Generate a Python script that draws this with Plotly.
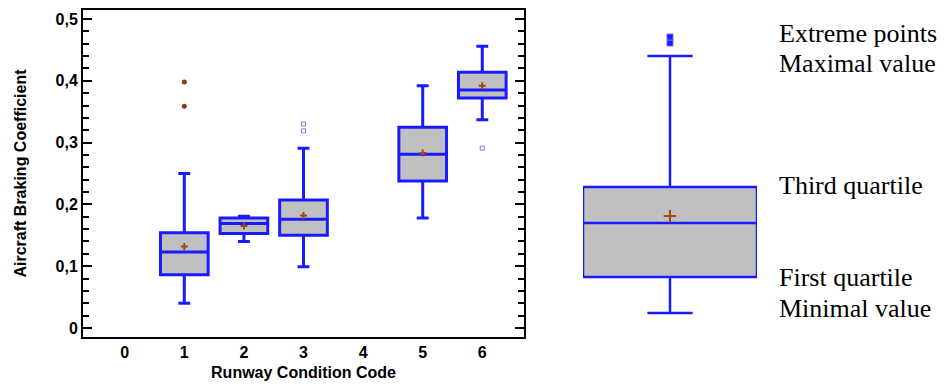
import plotly.graph_objects as go

# ---- data: left chart (Runway Condition Code vs Aircraft Braking Coefficient) ----
codes = [1, 2, 3, 5, 6]
q1 = [0.086, 0.153, 0.150, 0.238, 0.372]
medians = [0.123, 0.169, 0.176, 0.281, 0.385]
q3 = [0.154, 0.178, 0.207, 0.325, 0.414]
lower = [0.040, 0.140, 0.099, 0.178, 0.337]
upper = [0.250, 0.181, 0.291, 0.392, 0.456]
means = [0.132, 0.165, 0.182, 0.283, 0.392]

far_x = [1, 1]
far_y = [0.398, 0.359]
out_x = [3, 3, 6]
out_y = [0.330, 0.319, 0.291]

x_ticks = [0, 1, 2, 3, 4, 5, 6]
y_ticks = [0, 0.1, 0.2, 0.3, 0.4, 0.5]
y_ticktext = ["0", "0,1", "0,2", "0,3", "0,4", "0,5"]

# ---- data: schematic legend box (arbitrary units) ----
demo_lower = 72
demo_q1 = 108
demo_median = 162
demo_q3 = 198
demo_upper = 329
demo_mean = 169
demo_extremes = [342, 348]
legend_labels = ["Extreme points", "Maximal value", "Third quartile", "First quartile", "Minimal value"]
legend_label_y = [352, 322, 200, 108, 77]

BLUE = "#1a1aff"
GRAY = "#c0c0c0"
BROWN = "#9a4a14"

fig = go.Figure()

fig.add_trace(go.Box(
    x=codes, q1=q1, median=medians, q3=q3, lowerfence=lower, upperfence=upper,
    width=0.8, whiskerwidth=0.25, fillcolor=GRAY,
    line=dict(color=BLUE, width=3), boxpoints=False, showlegend=False,
    xaxis="x", yaxis="y"))

fig.add_trace(go.Scatter(
    x=codes, y=means, mode="markers",
    marker=dict(symbol="cross-thin", size=5, line=dict(color=BROWN, width=2), color=BROWN),
    showlegend=False, xaxis="x", yaxis="y"))

fig.add_trace(go.Scatter(
    x=far_x, y=far_y, mode="markers",
    marker=dict(symbol="circle", size=5, color="#8a3a1a"),
    showlegend=False, xaxis="x", yaxis="y"))

fig.add_trace(go.Scatter(
    x=out_x, y=out_y, mode="markers",
    marker=dict(symbol="square-open", size=4, line=dict(color="#6f7cff", width=1)),
    showlegend=False, xaxis="x", yaxis="y"))

# ---- schematic legend box ----
fig.add_trace(go.Box(
    x=[0], q1=[demo_q1], median=[demo_median], q3=[demo_q3],
    lowerfence=[demo_lower], upperfence=[demo_upper],
    width=1, whiskerwidth=0.26, fillcolor=GRAY,
    line=dict(color=BLUE, width=2.5), boxpoints=False, showlegend=False,
    xaxis="x2", yaxis="y2"))

fig.add_trace(go.Scatter(
    x=[0], y=[demo_mean], mode="markers",
    marker=dict(symbol="cross-thin", size=9, line=dict(color=BROWN, width=2)),
    showlegend=False, xaxis="x2", yaxis="y2"))

fig.add_trace(go.Scatter(
    x=[0] * len(demo_extremes), y=demo_extremes, mode="markers",
    marker=dict(symbol="square", size=6, color=BLUE, line=dict(color="#6a6aff", width=1)),
    showlegend=False, xaxis="x2", yaxis="y2"))

for text, yy in zip(legend_labels, legend_label_y):
    fig.add_annotation(
        text=text, x=777 / 945, xref="paper", y=yy, yref="y2",
        xanchor="left", yanchor="middle", showarrow=False,
        font=dict(family="Liberation Serif, Times New Roman, serif", size=26, color="black"))

axis_font = dict(family="Liberation Sans, Arial, sans-serif", size=16, color="black", weight="bold")

fig.update_layout(
    width=945, height=385,
    margin=dict(l=0, r=0, t=0, b=0),
    paper_bgcolor="white", plot_bgcolor="white",
    separators=",.",
    xaxis=dict(
        domain=[83 / 945, 524 / 945], range=[-0.7, 6.7], automargin=False,
        tickvals=x_ticks, ticks="", showgrid=False, zeroline=False,
        showline=True, mirror=True, linecolor="black", linewidth=2,
        tickfont=axis_font,
        title=dict(text="Runway Condition Code", font=axis_font, standoff=7)),
    yaxis=dict(
        domain=[48 / 385, 375 / 385], range=[-0.0146, 0.5146], automargin=False,
        tickvals=y_ticks, ticktext=y_ticktext,
        ticks="inside", ticklen=9, tickwidth=2, tickcolor="black",
        minor=dict(dtick=0.02, tick0=0, ticks="inside", ticklen=6, tickwidth=2, tickcolor="black"),
        showgrid=False, zeroline=False,
        showline=True, mirror="ticks", linecolor="black", linewidth=2,
        tickfont=axis_font,
        title=dict(text="Aircraft Braking Coefficient", font=axis_font, standoff=25)),
    xaxis2=dict(domain=[583 / 945, 757 / 945], range=[-0.5, 0.5], visible=False),
    yaxis2=dict(domain=[0, 1], range=[0, 385], visible=False, anchor="x2"),
)

fig.write_html("out.html", config={"displayModeBar": False},
               post_script="document.body.style.margin='0';")
